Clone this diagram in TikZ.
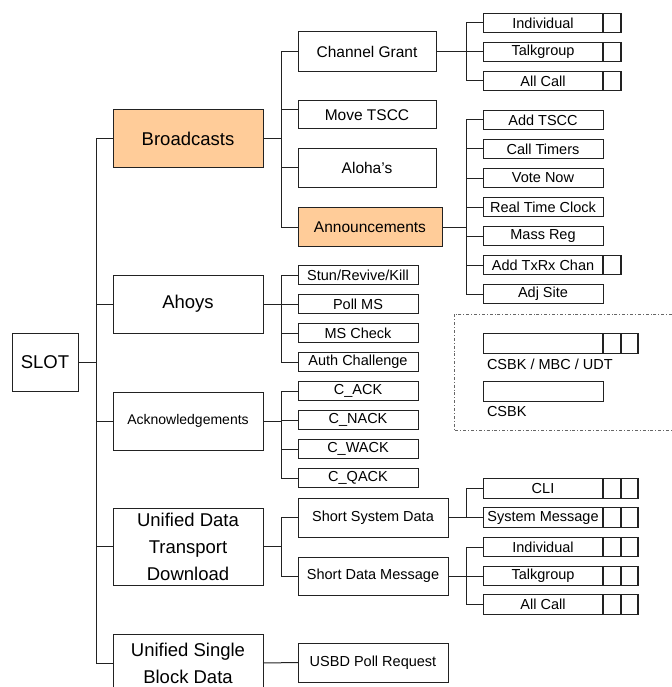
\documentclass[tikz,border=0pt]{standalone}
\usepackage{fontspec}
\setmainfont{Liberation Sans}
\definecolor{peach}{HTML}{FFCC99}
\definecolor{wirec}{HTML}{222222}
\begin{document}
\begin{tikzpicture}[x=1pt,y=-1pt,
  every node/.style={inner sep=0pt, outer sep=0pt},
  box/.style={draw=wirec, line width=1pt, rectangle, fill=white, align=center},
  big/.style={font=\fontsize{18.5}{27}\selectfont},
  ackf/.style={font=\fontsize{14}{16}\selectfont},
  mid/.style={font=\fontsize{15.5}{18}\selectfont},
  small/.style={font=\fontsize{14.5}{16}\selectfont},
  lv1/.style={box, big, minimum width=150, minimum height=58},
  lv2/.style={box, mid, minimum width=138},
  lf/.style={box, small, minimum width=120, minimum height=19.5},
  cellA/.style={box, line width=1.3pt, minimum width=18, minimum height=19.5, anchor=west},
  cellB/.style={box, line width=1.3pt, minimum width=17, minimum height=19.5, anchor=west},
  wire/.style={draw=wirec, line width=1pt},
  legendframe/.style={draw=black!60, line width=0.8pt, dash dot},
  ]
\useasboundingbox (0,0) rectangle (671,687);

% root
\node[box, big, minimum width=66, minimum height=58] (slot) at (45,362) {SLOT};

% level 1
\node[lv1, fill=peach] (bc) at (188,139) {Broadcasts};
\node[lv1] (ah) at (188,304) {Ahoys};
\node[lv1, ackf] (ack) at (188,421) {Acknowledgements};
\node[lv1, minimum height=77] (udt) at (188,546.5) {Unified Data\\Transport\\Download};
\node[lv1] (usb) at (188,663) {Unified Single\\Block Data};

% trunk
\coordinate (trT) at (96,139);
\coordinate (trB) at (96,663);
\draw[wire] (trT) -- (trB);
\draw[wire] (slot.east) -- (slot.east -| trT);
\foreach \n in {bc,ah,ack,udt,usb} \draw[wire] (\n.west) -- (\n.west -| trT);

% broadcasts children
\node[lv2, minimum height=40] (cg) at (367,52) {Channel Grant};
\node[lv2, minimum height=28] (mv) at (367,115) {Move TSCC};
\node[lv2, minimum height=39] (al) at (367,168) {Aloha's};
\node[lv2, minimum height=39, minimum width=144, fill=peach] (an) at (370,227) {Announcements};
\coordinate (bbT) at (281,52);
\coordinate (bbB) at (281,227);
\draw[wire] (bbT) -- (bbB);
\draw[wire] (bc.east) -- (bc.east -| bbT);
\draw[wire] (cg.west) -- (cg.west -| bbT);
\draw[wire] ([yshift=5pt]mv.west) -- ([yshift=5pt]mv.west -| bbT);
\draw[wire] (al.west) -- (al.west -| bbT);
\draw[wire] (an.west) -- (an.west -| bbT);

% channel grant leaves
\node[lf] (cgi) at (543,23) {Individual};
\node[lf] (cgt) at (543,52) {Talkgroup};
\node[lf] (cga) at (543,81) {All Call};
\node[cellA] (cgic) at (cgi.east) {};
\node[cellA] (cgtc) at (cgt.east) {};
\node[cellA] (cgac) at (cga.east) {};
\coordinate (cbT) at (466,23);
\coordinate (cbB) at (466,81);
\draw[wire] (cbT) -- (cbB);
\draw[wire] (cg.east) -- (cg.east -| cbT);
\foreach \n in {cgi,cgt,cga} \draw[wire] (\n.west) -- (\n.west -| cbT);

% announcements leaves
\node[lf] (a1) at (543,120) {Add TSCC};
\node[lf] (a2) at (543,149) {Call Timers};
\node[lf] (a3) at (543,178) {Vote Now};
\node[lf] (a4) at (543,207) {Real Time Clock};
\node[lf] (a5) at (543,236) {Mass Reg};
\node[lf] (a6) at (543,265) {Add TxRx Chan};
\node[lf] (a7) at (543,294) {Adj Site};
\node[cellA] (a6c) at (a6.east) {};
\coordinate (abT) at (466,120);
\coordinate (abB) at (466,294);
\draw[wire] (abT) -- (abB);
\draw[wire] (an.east) -- (an.east -| abT);
\foreach \n in {a1,a2,a3,a4,a5,a6,a7} \draw[wire] (\n.west) -- (\n.west -| abT);

% ahoys leaves
\node[lf] (h1) at (358,275) {Stun/Revive/Kill};
\node[lf] (h2) at (358,304) {Poll MS};
\node[lf] (h3) at (358,333) {MS Check};
\node[lf] (h4) at (358,362) {Auth Challenge};
\coordinate (hbT) at (281,275);
\coordinate (hbB) at (281,362);
\draw[wire] (hbT) -- (hbB);
\draw[wire] (ah.east) -- (ah.east -| hbT);
\foreach \n in {h1,h2,h3,h4} \draw[wire] (\n.west) -- (\n.west -| hbT);

% ack leaves
\node[lf] (k1) at (358,391) {C\_ACK};
\node[lf] (k2) at (358,420) {C\_NACK};
\node[lf] (k3) at (358,449) {C\_WACK};
\node[lf] (k4) at (358,478) {C\_QACK};
\coordinate (kbT) at (281,391);
\coordinate (kbB) at (281,478);
\draw[wire] (kbT) -- (kbB);
\draw[wire] (ack.east) -- (ack.east -| kbT);
\foreach \n in {k1,k2,k3,k4} \draw[wire] (\n.west) -- (\n.west -| kbT);

% UDT children
\node[box, small, minimum width=150, minimum height=39] (ssd) at (373,517.5) {Short System Data};
\node[box, small, minimum width=150, minimum height=38] (sdm) at (373,576) {Short Data Message};
\coordinate (ubT) at (281,517.5);
\coordinate (ubB) at (281,576);
\draw[wire] (ubT) -- (ubB);
\draw[wire] (udt.east) -- (udt.east -| ubT);
\draw[wire] (ssd.west) -- (ssd.west -| ubT);
\draw[wire] (sdm.west) -- (sdm.west -| ubT);

% short system data leaves
\node[lf] (s1) at (543,488.5) {CLI};
\node[lf] (s2) at (543,517.5) {System Message};
\node[cellA] (s1c) at (s1.east) {};
\node[cellB] (s1d) at (s1c.east) {};
\node[cellA] (s2c) at (s2.east) {};
\node[cellB] (s2d) at (s2c.east) {};
\coordinate (sbT) at (466,488.5);
\coordinate (sbB) at (466,517.5);
\draw[wire] (sbT) -- (sbB);
\draw[wire] (ssd.east) -- (ssd.east -| sbT);
\foreach \n in {s1,s2} \draw[wire] (\n.west) -- (\n.west -| sbT);

% short data message leaves
\node[lf] (m1) at (543,547) {Individual};
\node[lf] (m2) at (543,576) {Talkgroup};
\node[lf] (m3) at (543,604.5) {All Call};
\node[cellA] (m1c) at (m1.east) {};
\node[cellB] (m1d) at (m1c.east) {};
\node[cellA] (m2c) at (m2.east) {};
\node[cellB] (m2d) at (m2c.east) {};
\node[cellA] (m3c) at (m3.east) {};
\node[cellB] (m3d) at (m3c.east) {};
\coordinate (mbT) at (466,547);
\coordinate (mbB) at (466,604.5);
\draw[wire] (mbT) -- (mbB);
\draw[wire] (sdm.east) -- (sdm.east -| mbT);
\foreach \n in {m1,m2,m3} \draw[wire] (\n.west) -- (\n.west -| mbT);

% USBD child
\node[box, small, minimum width=150, minimum height=39] (up) at (373,662.5) {USBD Poll Request};
\draw[wire] (usb.east) -- (up.west);

% legend
\draw[legendframe] (672,314) -- (454,314) -- (454,430) -- (672,430);
\node[lf] (g1) at (543,343.5) {};
\node[cellA] (g1c) at (g1.east) {};
\node[cellB] (g1d) at (g1c.east) {};
\node[small, anchor=west] (g1l) at (487,364) {CSBK / MBC / UDT};
\node[lf] (g2) at (543,391.5) {};
\node[small, anchor=west] (g2l) at (487,412) {CSBK};
\end{tikzpicture}
\end{document}
